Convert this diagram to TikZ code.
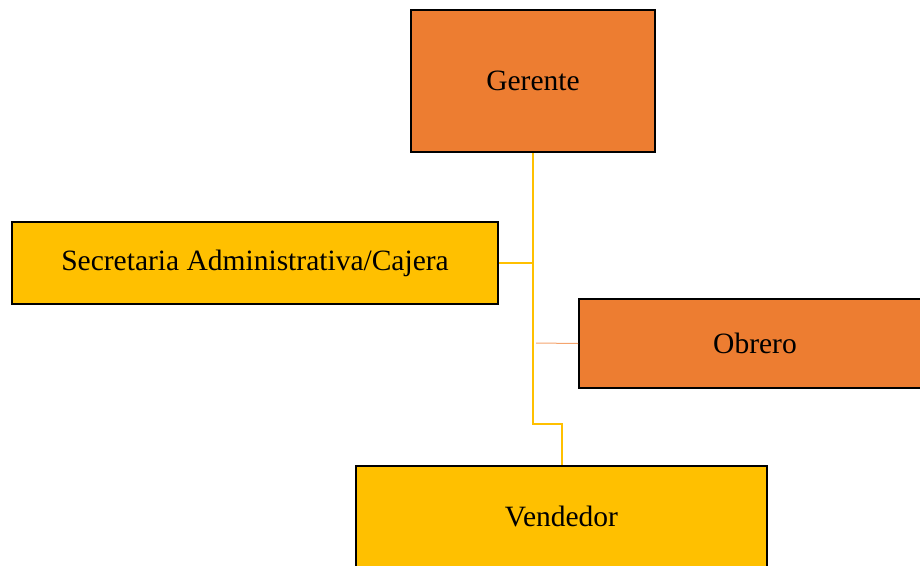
\documentclass[tikz,border=0pt]{standalone}
\usepackage{fontspec}
\setmainfont{Liberation Serif}
\definecolor{orgfill}{HTML}{ED7D31}
\definecolor{goldfill}{HTML}{FFC000}
\definecolor{lightorg}{HTML}{F4A46E}
\begin{document}
\begin{tikzpicture}[x=1pt,y=-1pt,
  box/.style={draw=black,line width=2pt,inner sep=0pt,minimum width=#1,font=\fontsize{29.5}{34}\selectfont},
  obox/.style={box=#1,fill=orgfill},
  gbox/.style={box=#1,fill=goldfill},
  link/.style={draw=goldfill,line width=2pt},
  thinlink/.style={draw=lightorg,line width=1pt}]
\useasboundingbox (0,0) rectangle (920,565);
\clip (0,0) rectangle (920,565);
\node[obox=244pt,minimum height=142pt] (ger) at (533,81) {Gerente};
\node[gbox=486pt,minimum height=82pt] (sec) at (255,263) {Secretaria Administrativa/Cajera};
\node[obox=352pt,minimum height=89pt] (obr) at (755,343.5) {Obrero};
\node[gbox=411pt,minimum height=104pt] (ven) at (561.5,518) {};
\node[font=\fontsize{29.5}{34}\selectfont,inner sep=0pt] (vtxt) at (561.5,516) {Vendedor};
\coordinate (bend1) at (533,424);
\coordinate (bend2) at (561.5,424);
\coordinate (join) at (533,263);
\coordinate (ostart) at (536,343);
\draw[link] (ger.south) -- (bend1) -- (bend2) -- (ven.north);
\draw[link] (sec.east) -- (join);
\draw[thinlink] (ostart) -- (obr.west);
\end{tikzpicture}
\end{document}
